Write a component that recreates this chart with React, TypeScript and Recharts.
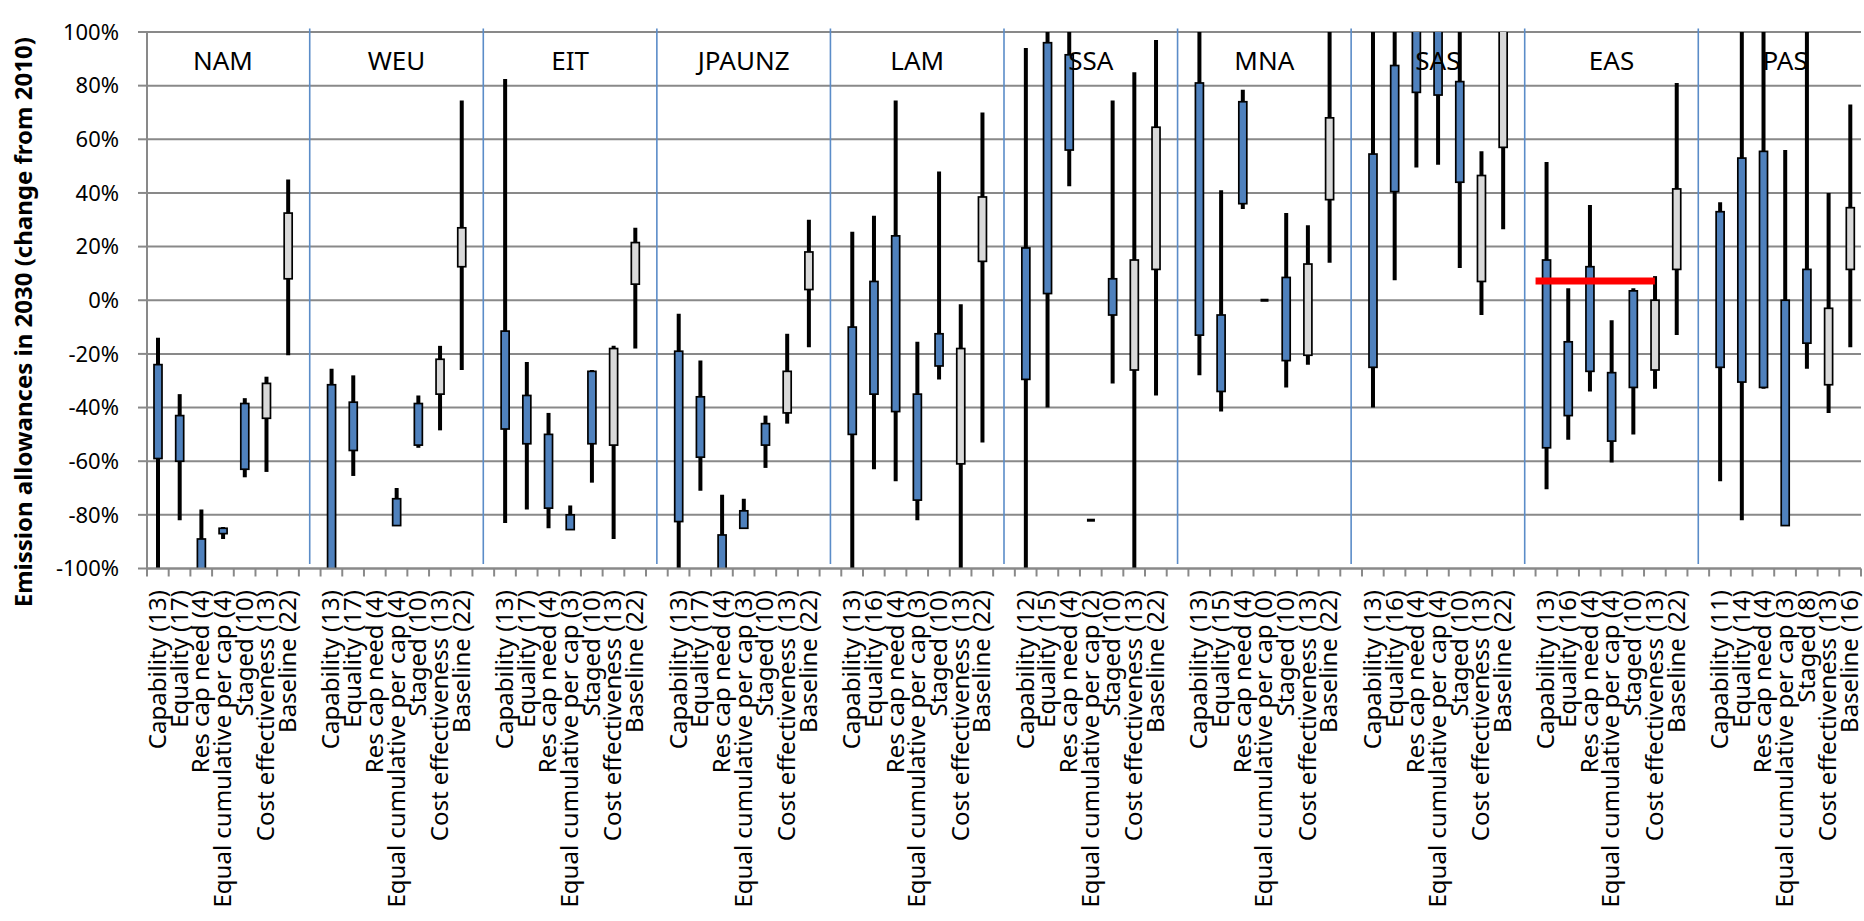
import React from "react";
import {
  ComposedChart,
  Bar,
  XAxis,
  YAxis,
  CartesianGrid,
  ReferenceLine,
  ReferenceDot,
} from "recharts";

// regions and allocation approaches
const regions = ["NAM", "WEU", "EIT", "JPAUNZ", "LAM", "SSA", "MNA", "SAS", "EAS", "PAS"];
const approaches = [
  "Capability",
  "Equality",
  "Res cap need",
  "Equal cumulative per cap",
  "Staged",
  "Cost effectiveness",
  "Baseline",
];
const greyApproaches = ["Cost effectiveness", "Baseline"];

// number of models per approach, in the order of `approaches`
const modelCounts: Record<string, number[]> = {
  NAM: [13, 17, 4, 4, 10, 13, 22],
  WEU: [13, 17, 4, 4, 10, 13, 22],
  EIT: [13, 17, 4, 3, 10, 13, 22],
  JPAUNZ: [13, 17, 4, 3, 10, 13, 22],
  LAM: [13, 16, 4, 3, 10, 13, 22],
  SSA: [12, 15, 4, 2, 10, 13, 22],
  MNA: [13, 15, 4, 0, 10, 13, 22],
  SAS: [13, 16, 4, 4, 10, 13, 22],
  EAS: [13, 16, 4, 4, 10, 13, 22],
  PAS: [11, 14, 4, 3, 8, 13, 16],
};

// [whisker min, box low, box high, whisker max] in % change from 2010
// values past +/-100 run off the plot
type Range = [number, number, number, number] | null;
const NAM: Range[] = [
  [-110, -59, -24, -14],
  [-82, -60, -43, -35],
  [-110, -110, -89, -78],
  [-89, -87, -85, -84.5],
  [-66, -63, -38.5, -36.5],
  [-64, -44, -31, -28.5],
  [-20.5, 8, 32.5, 45],
];
const WEU: Range[] = [
  [-110, -110, -31.5, -25.5],
  [-65.5, -56, -38, -28],
  null,
  [-84, -84, -74, -70],
  [-55, -54, -38.5, -35.5],
  [-48.5, -35, -22, -17],
  [-26, 12.5, 27, 74.5],
];
const EIT: Range[] = [
  [-83, -48, -11.5, 82.5],
  [-78, -53.5, -35.5, -23],
  [-85, -77.5, -50, -42],
  [-85.5, -85.5, -80, -76.5],
  [-68, -53.5, -26.5, -26],
  [-89, -54, -18, -17],
  [-18, 6, 21.5, 27],
];
const JPAUNZ: Range[] = [
  [-110, -82.5, -19, -5],
  [-71, -58.5, -36, -22.5],
  [-110, -110, -87.5, -72.5],
  [-85, -85, -78.5, -74],
  [-62.5, -54, -46, -43],
  [-46, -42, -26.5, -12.5],
  [-17.5, 4, 18, 30],
];
const LAM: Range[] = [
  [-110, -50, -10, 25.5],
  [-63, -35, 7, 31.5],
  [-67.5, -41.5, 24, 74.5],
  [-82, -74.5, -35, -15.5],
  [-29.5, -24.5, -12.5, 48],
  [-110, -61, -18, -1.5],
  [-53, 14.5, 38.5, 70],
];
const SSA: Range[] = [
  [-110, -29.5, 19.5, 94],
  [-40, 2.5, 96, 110],
  [42.5, 56, 91.5, 110],
  [-82, -82, -82, -82],
  [-31, -5.5, 8, 74.5],
  [-110, -26, 15, 85],
  [-35.5, 11.5, 64.5, 97],
];
const MNA: Range[] = [
  [-28, -13, 81, 110],
  [-41.5, -34, -5.5, 41],
  [34, 36, 74, 78.5],
  [0, 0, 0, 0],
  [-32.5, -22.5, 8.5, 32.5],
  [-24, -20.5, 13.5, 28],
  [14, 37.5, 68, 110],
];
const SAS: Range[] = [
  [-40, -25, 54.5, 110],
  [7.5, 40.5, 87.5, 110],
  [49.5, 77.5, 110, 110],
  [50.5, 76.5, 110, 110],
  [12, 44, 81.5, 110],
  [-5.5, 7, 46.5, 55.5],
  [26.5, 57, 110, 110],
];
const EAS: Range[] = [
  [-70.5, -55, 15, 51.5],
  [-52, -43, -15.5, 4.5],
  [-34, -26.5, 12.5, 35.5],
  [-60.5, -52.5, -27, -7.5],
  [-50, -32.5, 3.5, 4.5],
  [-33, -26, 0, 9],
  [-13, 11.5, 41.5, 81],
];
const PAS: Range[] = [
  [-67.5, -25, 33, 36.5],
  [-82, -30.5, 53, 110],
  [-33, -32.5, 55.5, 110],
  [-84, -84, 0, 56],
  [-25.5, -16, 11.5, 110],
  [-42, -31.5, -3, 40],
  [-17.5, 11.5, 34.5, 73],
];
const ranges: Record<string, Range[]> = { NAM, WEU, EIT, JPAUNZ, LAM, SSA, MNA, SAS, EAS, PAS };

// EAS reference level (red line)
const easReference = 7.2;

const yTicks = [-100, -80, -60, -40, -20, 0, 20, 40, 60, 80, 100];

const W = 1864;
const H = 921;
const MARGIN = { top: 32, right: 3, left: 0, bottom: 0 };
const Y_AXIS_W = 147;
const X_AXIS_H = 352.5;
const GRID = "#898989";
const BLUE = "#4F81BD";
const GREY = "#D9D9D9";
const FONT = "Noto Sans";

type Row = {
  key: string;
  label: string;
  grey: boolean;
  whisker?: [number, number];
  box?: [number, number];
};

const rows: Row[] = [];
regions.forEach((r, ri) => {
  approaches.forEach((a, ai) => {
    const v = ranges[r][ai];
    rows.push({
      key: `${r}|${ai}`,
      label: `${a} (${modelCounts[r][ai]})`,
      grey: greyApproaches.includes(a),
      whisker: v ? [v[0], v[3]] : undefined,
      box: v ? [v[1], v[2]] : undefined,
    });
  });
  if (ri < regions.length - 1) rows.push({ key: `${r}|gap`, label: "", grey: false });
});

const BAND = (W - MARGIN.left - MARGIN.right - Y_AXIS_W) / rows.length;
const labelByKey = new Map(rows.map((r) => [r.key, r.label]));

function CategoryTick(props: any) {
  const { x, y, payload, index } = props;
  const label = labelByKey.get(payload.value) || "";
  const left = x - BAND / 2;
  const tx = x + 8;
  const ty = y + 21.5;
  return (
    <g>
      <line x1={left} x2={left} y1={y} y2={y + 8} stroke={GRID} strokeWidth={2} />
      {index === rows.length - 1 && (
        <line x1={x + BAND / 2} x2={x + BAND / 2} y1={y} y2={y + 8} stroke={GRID} strokeWidth={2} />
      )}
      {label && (
        <text
          x={tx}
          y={ty}
          transform={`rotate(-90, ${tx}, ${ty})`}
          textAnchor="end"
          fontSize={24}
          fontFamily={FONT}
          fill="#000"
        >
          {label}
        </text>
      )}
    </g>
  );
}

function BoxShape(props: any) {
  const { x, y, width, height, payload } = props;
  if (x == null || y == null) return null;
  if (Math.abs(height) < 1) {
    return <rect x={x} y={y - 1.5} width={width} height={3} fill="#000" />;
  }
  return (
    <rect
      x={x}
      y={Math.min(y, y + height)}
      width={width}
      height={Math.abs(height)}
      fill={payload.grey ? GREY : BLUE}
      stroke="#000"
      strokeWidth={1.7}
    />
  );
}

function YTitle(props: any) {
  const { viewBox } = props;
  const tx = viewBox.x + 32;
  const ty = viewBox.y + viewBox.height / 2 + 22;
  return (
    <text
      x={tx}
      y={ty}
      transform={`rotate(-90, ${tx}, ${ty})`}
      textAnchor="middle"
      fontSize={24}
      fontWeight="bold"
      fontFamily={FONT}
      fill="#000"
    >
      Emission allowances in 2030 (change from 2010)
    </text>
  );
}

export default function App() {
  return (
    <div style={{ position: "absolute", left: 0, top: 0, background: "#fff" }}>
      <ComposedChart width={W} height={H} data={rows} margin={MARGIN}>
        <CartesianGrid xAxisId={0} horizontal vertical={false} stroke={GRID} strokeWidth={2} />
        <XAxis
          xAxisId={0}
          dataKey="key"
          interval={0}
          height={X_AXIS_H}
          tickSize={0}
          tickMargin={0}
          tickLine={false}
          axisLine={{ stroke: GRID, strokeWidth: 2 }}
          tick={<CategoryTick />}
        />
        <XAxis xAxisId={1} dataKey="key" hide />
        <YAxis
          width={Y_AXIS_W}
          domain={[-100, 100]}
          ticks={yTicks}
          allowDataOverflow
          tickSize={9}
          tickMargin={19}
          tickFormatter={(v: number) => `${v}%`}
          tick={{ fontSize: 22, fill: "#000", fontFamily: FONT }}
          tickLine={{ stroke: GRID, strokeWidth: 2 }}
          axisLine={{ stroke: GRID, strokeWidth: 2 }}
          label={(p: any) => <YTitle {...p} />}
        />
        {regions.slice(0, -1).map((r) => (
          <ReferenceLine
            key={`div-${r}`}
            xAxisId={0}
            segment={[
              { x: `${r}|gap`, y: 101.3 },
              { x: `${r}|gap`, y: -98.3 },
            ]}
            ifOverflow="visible"
            stroke="#5B8CC8"
            strokeWidth={1.6}
          />
        ))}
        <Bar xAxisId={0} dataKey="whisker" barSize={4} fill="#000" isAnimationActive={false} />
        <Bar xAxisId={1} dataKey="box" barSize={8} shape={BoxShape} isAnimationActive={false} />
        <ReferenceLine
          xAxisId={0}
          segment={[
            { x: "EAS|0", y: easReference },
            { x: "EAS|5", y: easReference },
          ]}
          ifOverflow="visible"
          shape={(p: any) => (
            <line x1={p.x1 - BAND / 2} y1={p.y1} x2={p.x2} y2={p.y2} stroke="#FF0000" strokeWidth={7} />
          )}
        />
        {regions.map((r) => (
          <ReferenceDot
            key={`lbl-${r}`}
            xAxisId={0}
            x={`${r}|3`}
            y={89.4}
            r={0}
            fill="none"
            stroke="none"
            label={{ value: r, position: "center", fontSize: 26, fill: "#000", fontFamily: FONT }}
          />
        ))}
      </ComposedChart>
    </div>
  );
}
